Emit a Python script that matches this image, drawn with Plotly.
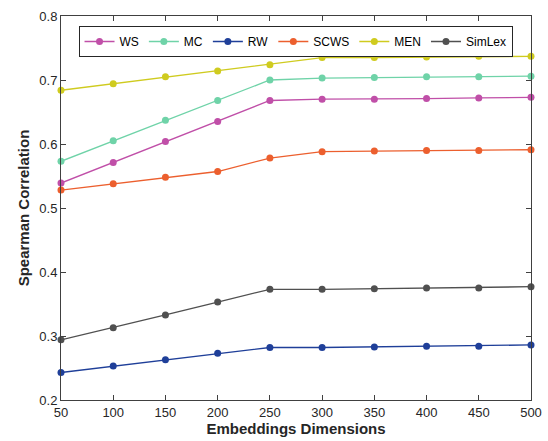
import plotly.graph_objects as go

dims = [50, 100, 150, 200, 250, 300, 350, 400, 450, 500]
ws = [0.539, 0.571, 0.604, 0.635, 0.668, 0.670, 0.670, 0.671, 0.672, 0.673]
mc = [0.573, 0.605, 0.637, 0.668, 0.700, 0.703, 0.704, 0.705, 0.705, 0.706]
rw = [0.243, 0.253, 0.263, 0.273, 0.282, 0.282, 0.283, 0.284, 0.284, 0.286]
scws = [0.528, 0.538, 0.548, 0.557, 0.578, 0.588, 0.589, 0.590, 0.590, 0.591]
men = [0.684, 0.694, 0.705, 0.714, 0.724, 0.735, 0.735, 0.736, 0.737, 0.737]
simlex = [0.294, 0.313, 0.333, 0.353, 0.373, 0.373, 0.374, 0.375, 0.375, 0.377]

series = [
    ("WS", ws, "#c04fa8"),
    ("MC", mc, "#6fd3a8"),
    ("RW", rw, "#1f3f99"),
    ("SCWS", scws, "#ec5f2e"),
    ("MEN", men, "#cfcb1f"),
    ("SimLex", simlex, "#505050"),
]

fig = go.Figure()
for name, vals, col in series:
    fig.add_trace(go.Scatter(x=dims, y=vals, name=name, mode="lines+markers",
                             line=dict(color=col, width=1.3),
                             marker=dict(color=col, size=7),
                             cliponaxis=False))

axis_common = dict(showline=True, mirror="ticks", linecolor="#404040", linewidth=1,
                   ticks="inside", ticklen=5, tickcolor="#404040", showgrid=False,
                   zeroline=False, automargin=False,
                   tickfont=dict(family="Liberation Sans, Arial", size=13, color="#262626"))

fig.update_layout(
    width=548, height=441,
    margin=dict(l=61, r=17, t=16, b=41),
    paper_bgcolor="white", plot_bgcolor="white",
    showlegend=True,
    legend=dict(orientation="h", x=0.499, xanchor="center", y=0.974, yanchor="top",
                bordercolor="#262626", borderwidth=1, bgcolor="white",
                font=dict(family="Liberation Sans, Arial", size=12, color="#000000"),
                tracegroupgap=0),
    xaxis=dict(range=[50, 500], tickvals=dims,
               title=dict(text="<b>Embeddings Dimensions</b>", standoff=0,
                          font=dict(family="Liberation Sans, Arial", size=15, color="#262626")),
               **axis_common),
    yaxis=dict(range=[0.2, 0.8], tickvals=[0.2, 0.3, 0.4, 0.5, 0.6, 0.7, 0.8],
               tickformat=".1f",
               title=dict(text="<b>Spearman Correlation</b>", standoff=6,
                          font=dict(family="Liberation Sans, Arial", size=15, color="#262626")),
               **axis_common),
)

fig.write_html("out.html", config={"displayModeBar": False},
               post_script="document.body.style.margin='0';document.body.style.overflow='hidden';")
